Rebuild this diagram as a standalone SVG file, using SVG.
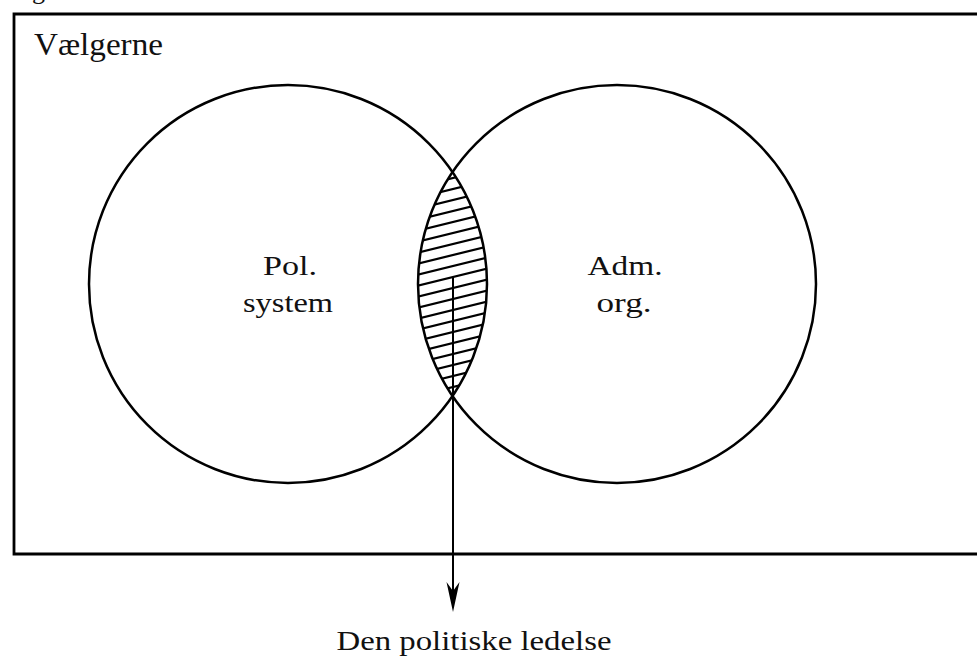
<svg xmlns="http://www.w3.org/2000/svg" width="977" height="661" viewBox="0 0 977 661">
<style>
.t{font-family:"Liberation Serif","DejaVu Serif",serif;fill:#111}
.c{fill:none;stroke:#000;stroke-width:2.5}
.h{stroke:#000;stroke-width:2.2}
</style>
<defs>
<clipPath id="cl"><circle cx="288" cy="284" r="199"/></clipPath>
<clipPath id="cr"><circle cx="617" cy="284" r="199"/></clipPath>
</defs>
<rect width="977" height="661" fill="#fff"/>
<text class="t" x="32" y="-1" font-size="26">g</text>
<g id="frame">
<path d="M990,14 L14,14 L14,554 L990,554" fill="none" stroke="#000" stroke-width="2.8"/>
<text class="t" x="34" y="55" font-size="31" textLength="129" lengthAdjust="spacingAndGlyphs">Vælgerne</text>
</g>
<g id="hatch">
<g clip-path="url(#cl)"><g clip-path="url(#cr)">
<g class="h">
<line x1="400" y1="180" x2="510" y2="153"/>
<line x1="400" y1="191" x2="510" y2="164"/>
<line x1="400" y1="202" x2="510" y2="175"/>
<line x1="400" y1="213" x2="510" y2="186"/>
<line x1="400" y1="224" x2="510" y2="197"/>
<line x1="400" y1="235" x2="510" y2="208"/>
<line x1="400" y1="246" x2="510" y2="219"/>
<line x1="400" y1="257" x2="510" y2="230"/>
<line x1="400" y1="268" x2="510" y2="241"/>
<line x1="400" y1="279" x2="510" y2="252"/>
<line x1="400" y1="290" x2="510" y2="263"/>
<line x1="400" y1="301" x2="510" y2="274"/>
<line x1="400" y1="312" x2="510" y2="285"/>
<line x1="400" y1="323" x2="510" y2="296"/>
<line x1="400" y1="334" x2="510" y2="307"/>
<line x1="400" y1="345" x2="510" y2="318"/>
<line x1="400" y1="356" x2="510" y2="329"/>
<line x1="400" y1="367" x2="510" y2="340"/>
<line x1="400" y1="378" x2="510" y2="351"/>
<line x1="400" y1="389" x2="510" y2="362"/>
<line x1="400" y1="400" x2="510" y2="373"/>
<line x1="400" y1="411" x2="510" y2="384"/>
<line x1="400" y1="422" x2="510" y2="395"/>
</g></g></g>
</g>
<g id="pol">
<circle class="c" cx="288" cy="284" r="199"/>
<text class="t" x="290" y="275" font-size="28" text-anchor="middle" textLength="54" lengthAdjust="spacingAndGlyphs">Pol.</text>
<text class="t" x="288" y="312" font-size="28" text-anchor="middle" textLength="90" lengthAdjust="spacingAndGlyphs">system</text>
</g>
<g id="adm">
<circle class="c" cx="617" cy="284" r="199"/>
<text class="t" x="625" y="275" font-size="28" text-anchor="middle" textLength="75" lengthAdjust="spacingAndGlyphs">Adm.</text>
<text class="t" x="624" y="312" font-size="28" text-anchor="middle" textLength="55" lengthAdjust="spacingAndGlyphs">org.</text>
</g>
<g id="connectors">
<line x1="453" y1="277" x2="453" y2="600" stroke="#000" stroke-width="2"/>
<path d="M453,612 L446.5,582 L453,591 L459.5,582 Z" fill="#000"/>
</g>
<g id="label">
<text class="t" x="474" y="650" font-size="27" text-anchor="middle" textLength="275" lengthAdjust="spacingAndGlyphs">Den politiske ledelse</text>
</g>
</svg>
